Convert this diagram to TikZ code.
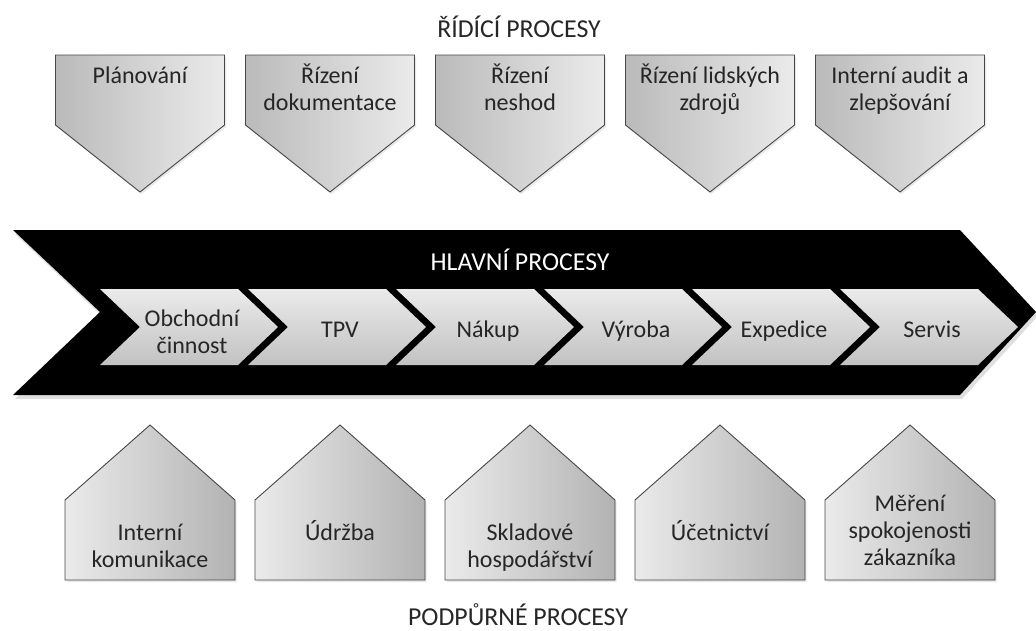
\documentclass[tikz,border=0pt]{standalone}
\usepackage{fontspec}
\setmainfont{Carlito}
\usetikzlibrary{shadows}

\tikzset{
  lbl/.style={font=\fontsize{24}{27}\selectfont, align=center, text=black!85,
    inner sep=0pt, anchor=base},
  headlbl/.style={lbl, font=\fontsize{25.8}{29}\selectfont},
  softshadow/.style={drop shadow={opacity=0.18, shadow xshift=1.5pt, shadow yshift=-2pt}},
  ctrlbox/.style={draw=black!72, line width=0.9pt, line join=miter,
    left color=black!27, right color=black!8, softshadow},
  suppbox/.style={draw=black!72, line width=0.9pt, line join=miter,
    left color=black!8, right color=black!30, softshadow},
  stagechev/.style={top color=black!8, bottom color=black!24},
  mainarrow/.style={fill=black, drop shadow={opacity=0.25, shadow xshift=2pt, shadow yshift=-4pt}},
}

% control process: pentagon pointing down; #3 = baseline of the last text line
\newcommand\ctrlpent[4]{%
  \path[ctrlbox] (#1-84.5,55) -- (#1+84.5,55) -- (#1+84.5,125) -- (#1,192)
    -- (#1-84.5,125) -- cycle;
  \node[lbl] (#2) at (#1,#3) {#4};}

% support process: pentagon pointing up
\newcommand\supppent[4]{%
  \path[suppbox] (#1-85,580) -- (#1-85,500) -- (#1,425) -- (#1+85,500)
    -- (#1+85,580) -- cycle;
  \node[lbl] (#2) at (#1,#3) {#4};}

% main process stage: chevron starting at x = #1
\newcommand\stagechevron[4]{%
  \path[stagechev] (#1,289) -- (#1+138,289) -- (#1+178,327) -- (#1+138,365)
    -- (#1,365) -- (#1+40,327) -- cycle;
  \node[lbl] (#2) at (#1+92,#3) {#4};}

\begin{document}
\begin{tikzpicture}[x=1pt,y=-1pt]
  \fill[white] (0,0) rectangle (1036,630);
  \useasboundingbox (0,0) rectangle (1036,630);

  % control processes
  \node[headlbl] (ctrltitle) at (519,37) {ŘÍDÍCÍ PROCESY};
  \ctrlpent{140}{plan}{83}{Plánování}
  \ctrlpent{330}{docs}{110}{Řízení\\dokumentace}
  \ctrlpent{520}{nonconf}{110}{Řízení\\neshod}
  \ctrlpent{710}{hr}{110}{Řízení lidských\\zdrojů}
  \ctrlpent{900}{audit}{110}{Interní audit a\\zlepšování}

  % main processes
  \path[mainarrow] (13,230) -- (960,230) -- (1036,312) -- (960,395)
    -- (13,395) -- (100,312) -- cycle;
  \node[headlbl, text=white] (maintitle) at (520,270) {HLAVNÍ PROCESY};
  \stagechevron{100}{sales}{353}{Obchodní\\činnost}
  \stagechevron{248}{tpv}{337}{TPV}
  \stagechevron{396}{purch}{337}{Nákup}
  \stagechevron{544}{prod}{337}{Výroba}
  \stagechevron{692}{ship}{337}{Expedice}
  \stagechevron{840}{serv}{337}{Servis}

  % support processes
  \supppent{150}{comm}{567}{Interní\\komunikace}
  \supppent{340}{maint}{540}{Údržba}
  \supppent{530}{store}{567}{Skladové\\hospodářství}
  \supppent{720}{acct}{540}{Účetnictví}
  \supppent{910}{satisf}{565}{Měření\\spokojenosti\\zákazníka}
  \node[headlbl] (supptitle) at (518,625) {PODPŮRNÉ PROCESY};
\end{tikzpicture}
\end{document}
